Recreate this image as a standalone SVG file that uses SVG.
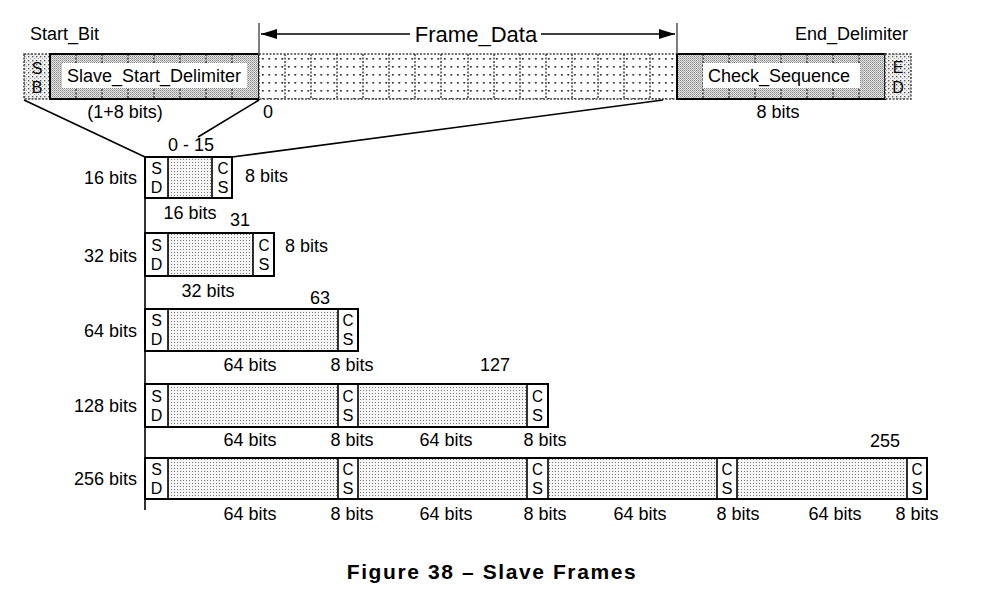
<svg xmlns="http://www.w3.org/2000/svg" width="985" height="606" viewBox="0 0 985 606">
<style>
text{font-family:"Liberation Sans",Arial,sans-serif;font-size:18px;fill:#000}
.c{text-anchor:middle}
.r{text-anchor:end}
.big{font-size:22px}
.sm{font-size:16px}
.cap{font-weight:bold;font-size:21px;letter-spacing:1.6px}
.box{fill:none;stroke:#000;stroke-width:2}
.ln{stroke:#000;stroke-width:1.6;fill:none}
.dash{stroke:#444;stroke-width:1.5;stroke-dasharray:2 1.5;fill:none}
.fine{fill:url(#pFine)}
</style>
<defs>
<pattern id="pFine" width="3" height="3" patternUnits="userSpaceOnUse"><rect width="3" height="3" fill="#f6f6f6"/><rect width="1" height="1" fill="#7a7a7a"/></pattern>
<pattern id="pSparse" width="6.5" height="8" patternUnits="userSpaceOnUse"><rect width="6.5" height="8" fill="#fff"/><rect x="2" y="2" width="1.6" height="1.6" fill="#111"/></pattern>
<pattern id="pDark" width="2" height="2" patternUnits="userSpaceOnUse"><rect width="2" height="2" fill="#e2e2e2"/><rect width="1" height="1" fill="#8a8a8a"/><rect x="1" y="1" width="1" height="1" fill="#b0b0b0"/></pattern>
<pattern id="pLight" width="4" height="4" patternUnits="userSpaceOnUse"><rect width="4" height="4" fill="#eeeeee"/><rect width="1.3" height="1.3" fill="#555"/><rect x="2" y="2" width="1" height="1" fill="#aaa"/></pattern>
<marker id="ah" viewBox="0 0 16 10" refX="16" refY="5" markerWidth="16" markerHeight="10" markerUnits="userSpaceOnUse" orient="auto-start-reverse"><path d="M0,0 L16,5 L0,10 Z" fill="#000"/></marker>
</defs>

<!-- Top frame -->
<g id="start-bit">
<text x="30" y="40">Start_Bit</text>
<rect x="24" y="54" width="26" height="45" fill="url(#pLight)"/>
<rect x="24" y="54" width="26" height="45" class="dash"/>
<text x="37" y="74" class="c sm">S</text>
<text x="37" y="93" class="c sm">B</text>
</g>
<g id="slave-start-delimiter">
<rect x="50" y="54" width="209" height="45" fill="url(#pDark)"/>
<path d="M76,54V99M102,54V99M128,54V99M154,54V99M180,54V99M206,54V99M232,54V99" class="dash"/>
<rect x="62" y="63" width="185" height="25" fill="#fff"/>
<rect x="50" y="54" width="209" height="45" class="box"/>
<text x="154" y="82" class="c">Slave_Start_Delimiter</text>
<text x="125" y="118" class="c">(1+8 bits)</text>
</g>
<g id="frame-data">
<rect x="259" y="54" width="418" height="45" fill="url(#pSparse)"/>
<path d="M285,54V99M311,54V99M337,54V99M363,54V99M389,54V99M415,54V99M441,54V99M468,54V99M494,54V99M520,54V99M546,54V99M572,54V99M598,54V99M624,54V99M650,54V99" class="dash"/>
<rect x="259" y="54" width="418" height="45" class="dash"/>
<text x="268" y="118" class="c">0</text>
</g>
<g id="check-sequence">
<rect x="677" y="54" width="208" height="45" fill="url(#pDark)"/>
<path d="M703,54V99M729,54V99M755,54V99M781,54V99M807,54V99M833,54V99M859,54V99" class="dash"/>
<rect x="703" y="63" width="157" height="25" fill="#fff"/>
<rect x="677" y="54" width="208" height="45" class="box"/>
<text x="779" y="82" class="c">Check_Sequence</text>
<text x="778" y="118" class="c">8 bits</text>
</g>
<g id="end-delimiter">
<text x="908" y="40" class="r">End_Delimiter</text>
<rect x="885" y="54" width="26" height="45" fill="url(#pLight)"/>
<rect x="885" y="54" width="26" height="45" class="dash"/>
<text x="898" y="73" class="c sm">E</text>
<text x="898" y="93" class="c sm">D</text>
</g>

<!-- Connectors -->
<g id="connectors">
<path d="M259,23V54M677,23V54" stroke="#555" stroke-width="1.5"/>
<line x1="261" y1="34" x2="410" y2="34" class="ln" marker-start="url(#ah)"/>
<line x1="541" y1="34" x2="675" y2="34" class="ln" marker-end="url(#ah)"/>
<line x1="24" y1="100" x2="145" y2="157" class="ln"/>
<line x1="259" y1="100" x2="198" y2="137" class="ln"/>
<line x1="663" y1="100" x2="232" y2="157" class="ln"/>
<line x1="145" y1="157" x2="145" y2="510" class="ln"/>
</g>
<text x="476" y="42" class="c big">Frame_Data</text>

<!-- 16 bits frame -->
<g id="frame-16">
<rect x="168" y="157" width="44" height="41" class="fine"/>
<rect x="145" y="157" width="87" height="41" class="box"/>
<path d="M168,157V198M212,157V198" class="ln"/>
<text x="156.5" y="174" class="c sm">S</text><text x="156.5" y="193" class="c sm">D</text>
<text x="223" y="174" class="c sm" textLength="11" lengthAdjust="spacingAndGlyphs">C</text><text x="223" y="193" class="c sm" textLength="11" lengthAdjust="spacingAndGlyphs">S</text>
<text x="191" y="151" class="c">0 - 15</text>
<text x="137" y="184" class="r">16 bits</text>
<text x="245" y="182">8 bits</text>
<text x="190" y="219" class="c">16 bits</text>
</g>

<!-- 32 bits frame -->
<g id="frame-32">
<rect x="168" y="233" width="85" height="43" class="fine"/>
<rect x="145" y="233" width="129" height="43" class="box"/>
<path d="M168,233V276M253,233V276" class="ln"/>
<text x="156.5" y="251" class="c sm">S</text><text x="156.5" y="270" class="c sm">D</text>
<text x="264" y="251" class="c sm" textLength="11" lengthAdjust="spacingAndGlyphs">C</text><text x="264" y="270" class="c sm" textLength="11" lengthAdjust="spacingAndGlyphs">S</text>
<text x="240" y="226" class="c">31</text>
<text x="137" y="262" class="r">32 bits</text>
<text x="285" y="252">8 bits</text>
<text x="208" y="297" class="c">32 bits</text>
</g>

<!-- 64 bits frame -->
<g id="frame-64">
<rect x="168" y="309" width="170" height="42" class="fine"/>
<rect x="145" y="309" width="213" height="42" class="box"/>
<path d="M168,309V351M338,309V351" class="ln"/>
<text x="156.5" y="326" class="c sm">S</text><text x="156.5" y="345" class="c sm">D</text>
<text x="348" y="326" class="c sm" textLength="11" lengthAdjust="spacingAndGlyphs">C</text><text x="348" y="345" class="c sm" textLength="11" lengthAdjust="spacingAndGlyphs">S</text>
<text x="320" y="304" class="c">63</text>
<text x="137" y="337" class="r">64 bits</text>
<text x="250" y="371" class="c">64 bits</text>
<text x="352" y="371" class="c">8 bits</text>
</g>

<!-- 128 bits frame -->
<g id="frame-128">
<rect x="168" y="384" width="170" height="43" class="fine"/>
<rect x="358" y="384" width="169" height="43" class="fine"/>
<rect x="145" y="384" width="403" height="43" class="box"/>
<path d="M168,384V427M338,384V427M358,384V427M527,384V427" class="ln"/>
<text x="156.5" y="402" class="c sm">S</text><text x="156.5" y="421" class="c sm">D</text>
<text x="348" y="402" class="c sm" textLength="11" lengthAdjust="spacingAndGlyphs">C</text><text x="348" y="421" class="c sm" textLength="11" lengthAdjust="spacingAndGlyphs">S</text>
<text x="537.5" y="402" class="c sm" textLength="11" lengthAdjust="spacingAndGlyphs">C</text><text x="537.5" y="421" class="c sm" textLength="11" lengthAdjust="spacingAndGlyphs">S</text>
<text x="495" y="371" class="c">127</text>
<text x="137" y="412" class="r">128 bits</text>
<text x="250" y="446" class="c">64 bits</text>
<text x="352" y="446" class="c">8 bits</text>
<text x="446" y="446" class="c">64 bits</text>
<text x="545" y="446" class="c">8 bits</text>
</g>

<!-- 256 bits frame -->
<g id="frame-256">
<rect x="168" y="458" width="170" height="41" class="fine"/>
<rect x="358" y="458" width="169" height="41" class="fine"/>
<rect x="548" y="458" width="169" height="41" class="fine"/>
<rect x="737" y="458" width="170" height="41" class="fine"/>
<rect x="145" y="458" width="782" height="41" class="box"/>
<path d="M168,458V499M338,458V499M358,458V499M527,458V499M548,458V499M717,458V499M737,458V499M907,458V499" class="ln"/>
<text x="156.5" y="475" class="c sm">S</text><text x="156.5" y="494" class="c sm">D</text>
<text x="348" y="475" class="c sm" textLength="11" lengthAdjust="spacingAndGlyphs">C</text><text x="348" y="494" class="c sm" textLength="11" lengthAdjust="spacingAndGlyphs">S</text>
<text x="537.5" y="475" class="c sm" textLength="11" lengthAdjust="spacingAndGlyphs">C</text><text x="537.5" y="494" class="c sm" textLength="11" lengthAdjust="spacingAndGlyphs">S</text>
<text x="727" y="475" class="c sm" textLength="11" lengthAdjust="spacingAndGlyphs">C</text><text x="727" y="494" class="c sm" textLength="11" lengthAdjust="spacingAndGlyphs">S</text>
<text x="917" y="475" class="c sm" textLength="11" lengthAdjust="spacingAndGlyphs">C</text><text x="917" y="494" class="c sm" textLength="11" lengthAdjust="spacingAndGlyphs">S</text>
<text x="885" y="447" class="c">255</text>
<text x="137" y="485" class="r">256 bits</text>
<text x="250" y="520" class="c">64 bits</text>
<text x="352" y="520" class="c">8 bits</text>
<text x="446" y="520" class="c">64 bits</text>
<text x="545" y="520" class="c">8 bits</text>
<text x="640" y="520" class="c">64 bits</text>
<text x="738" y="520" class="c">8 bits</text>
<text x="835" y="520" class="c">64 bits</text>
<text x="917" y="520" class="c">8 bits</text>
</g>

<text x="492" y="579" class="c cap">Figure 38 – Slave Frames</text>
</svg>
